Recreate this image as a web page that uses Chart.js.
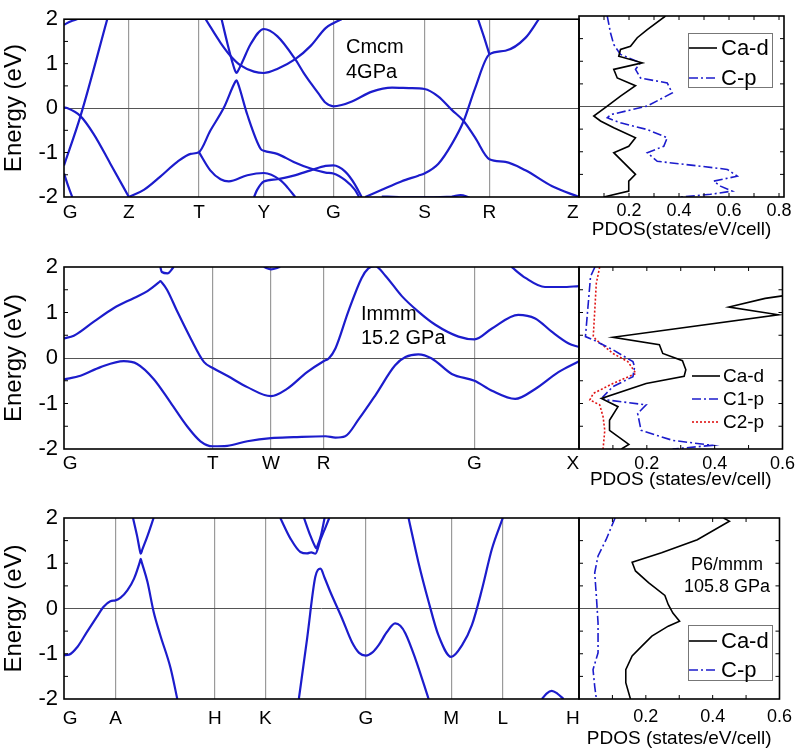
<!DOCTYPE html>
<html>
<head>
<meta charset="utf-8">
<script src="https://cdn.jsdelivr.net/npm/chart.js@4.4.1/dist/chart.umd.min.js"></script>
<style>
body { margin: 0; background: #fff; }
#wrap { position: relative; width: 799px; height: 750px; }
#wrap canvas { position: absolute; left: 0; top: 0; }
</style>
</head>
<body>
<div id="wrap"></div>
<script>
// energy axis
var energyTicks = [-2, -1, 0, 1, 2];
var energyMarks = [-1.5, -1, -0.5, 0.5, 1, 1.5];

// k-path (fraction of path length, 0..100) and labels
var cmcmKPos = [0, 12.6, 26.2, 38.8, 52.3, 70.0, 82.6, 100];
var cmcmKLabels = ["G", "Z", "T", "Y", "G", "S", "R", "Z"];
var immmKPos = [0, 28.9, 40.2, 50.4, 79.7, 100];
var immmKLabels = ["G", "T", "W", "R", "G", "X"];
var p6KPos = [0, 10.0, 29.3, 39.1, 58.6, 75.2, 85.2, 100];
var p6KLabels = ["G", "A", "H", "K", "G", "M", "L", "H"];

// bands [k, E]
var cmcmBands = [
  [[0,-1.29],[3.2,-0.18],[8.4,2.0]],
  [[0,-1.47],[0.8,-1.75],[1.6,-2.0]],
  [[0,0.015],[0.6,0.0],[3.2,-0.18],[5.8,-0.59],[9.0,-1.25],[12.6,-2.0]],
  [[12.6,-2.0],[15.5,-1.84],[18.7,-1.54],[22.0,-1.21],[24.6,-1.03],[26.2,-0.99],[28.4,-0.51],[31.0,0.0],[33.3,0.6],[33.5,0.625],[33.8,0.55],[35.6,-0.15],[38.2,-0.92],[38.8,-0.96],[41.4,-1.03],[44.6,-1.21],[47.9,-1.36],[50.8,-1.45],[52.3,-1.47],[54.6,-1.62],[56.5,-1.84],[57.3,-2.0]],
  [[36.9,-2.0],[37.5,-1.84],[38.8,-1.65],[41.4,-1.60],[44.6,-1.52],[47.9,-1.40],[50.8,-1.30],[52.3,-1.29],[54.6,-1.43],[56.5,-1.72],[57.8,-2.0]],
  [[26.2,-0.99],[28.4,-1.40],[30.4,-1.60],[32.0,-1.65],[35.6,-1.51],[38.8,-1.46],[42.0,-1.62],[43.5,-1.80],[44.9,-2.0]],
  [[27.5,2.0],[30.4,1.47],[32.3,1.18],[34.3,0.96],[36.9,0.82],[38.8,0.79],[41.4,0.88],[44.9,1.10],[47.9,1.40],[50.8,1.80],[52.3,1.91],[53.9,2.0]],
  [[30.6,2.0],[31.7,1.47],[32.7,1.03],[33.3,0.82],[33.5,0.79],[33.8,0.84],[34.6,1.03],[36.2,1.43],[38.8,1.78],[41.4,1.62],[44.9,1.10],[46.5,0.80],[48.0,0.55],[49.4,0.33],[50.8,0.12],[52.3,0.04],[53.9,0.07],[55.9,0.15],[59.8,0.37],[63.7,0.46],[67.0,0.45],[70.0,0.43],[72.7,0.26],[75.3,-0.04],[77.6,-0.29],[79.8,-0.66],[82.6,-1.15],[85.7,-1.21],[89.6,-1.40],[94.8,-1.76],[100,-2.0]],
  [[58.5,-2.0],[61.5,-1.85],[65.5,-1.65],[68.8,-1.52],[70.0,-1.47],[72.7,-1.25],[75.3,-0.81],[77.6,-0.29],[79.8,0.44],[82.6,1.21],[85.7,1.29],[89.6,1.58],[92.2,2.0]],
  [[80.4,2.0],[81.5,1.62],[82.6,1.21]],
  [[61.7,-1.99],[65.0,-2.0],[70.8,-2.01],[75.3,-1.99],[77.0,-1.96],[78.2,-1.99],[79.0,-2.03]],
  [[0,1.875],[1.26,1.95],[2.56,2.0]]
];

var immmBands = [
  [[0,0.43],[1.9,0.49],[5.8,0.80],[9.7,1.10],[13.6,1.32],[16.2,1.47],[18.5,1.67],[18.7,1.69],[19.0,1.66],[20.0,1.50],[22.0,1.02],[24.6,0.43],[27.2,-0.09],[28.9,-0.22],[31.7,-0.39],[35.6,-0.64],[40.2,-0.84],[43.3,-0.68],[47.2,-0.31],[50.4,-0.07],[51.4,-0.01],[52.7,0.21],[55.2,1.02],[57.8,1.76],[59.1,1.97],[60.4,2.02],[62.4,1.81],[65.6,1.36],[68.8,1.02],[72.1,0.73],[76.6,0.47],[79.7,0.41],[83.1,0.65],[88.2,0.95],[91.5,0.87],[94.7,0.58],[98.0,0.32],[100,0.24]],
  [[0,-0.47],[3.2,-0.39],[7.1,-0.20],[11.6,-0.07],[14.2,-0.13],[17.4,-0.46],[20.7,-0.98],[23.9,-1.50],[26.5,-1.83],[28.9,-1.94],[31.7,-1.93],[35.6,-1.83],[40.2,-1.76],[44.6,-1.74],[50.8,-1.72],[52.7,-1.75],[54.6,-1.72],[57.2,-1.35],[60.4,-0.83],[64.3,-0.16],[66.3,0.02],[68.8,0.08],[71.4,-0.01],[75.3,-0.35],[79.7,-0.50],[83.1,-0.72],[87.6,-0.90],[91.5,-0.68],[96.0,-0.31],[100,-0.07]],
  [[18.7,2.0],[19.0,1.89],[20.1,1.86],[21.3,2.0]],
  [[38.8,2.0],[40.2,1.95],[42.0,2.0]],
  [[86.9,2.0],[89.6,1.76],[93.4,1.56],[96.7,1.56],[100,1.58]]
];

var p6Bands = [
  [[0,-1.03],[1.0,-1.02],[2.6,-0.85],[4.5,-0.51],[6.4,-0.18],[7.7,0.04],[9.0,0.16],[10.0,0.18],[11.0,0.24],[12.3,0.40],[13.6,0.66],[14.7,1.02],[14.9,1.10],[15.1,1.02],[16.2,0.59],[17.4,-0.07],[18.7,-0.59],[20.7,-1.32],[22.0,-2.0]],
  [[13.4,2.0],[14.2,1.6],[14.7,1.3],[14.9,1.21],[15.2,1.3],[16.2,1.6],[17.4,2.0]],
  [[45.6,-2.0],[47.2,-0.67],[48.8,0.70],[49.8,0.88],[50.6,0.68],[51.7,0.37],[54.0,-0.22],[55.9,-0.74],[57.3,-0.98],[58.6,-1.04],[59.9,-0.97],[61.1,-0.81],[62.7,-0.52],[64.3,-0.33],[65.3,-0.38],[66.3,-0.55],[68.2,-1.10],[70.8,-2.0]],
  [[42.0,2.0],[44.0,1.54],[45.9,1.25],[47.2,1.22],[48.0,1.24],[48.8,1.21],[49.8,1.52],[50.8,1.80],[51.5,2.0]],
  [[46.6,2.0],[47.8,1.62],[48.8,1.36],[49.0,1.33],[49.2,1.38],[49.9,1.62],[50.6,2.0]],
  [[66.9,2.0],[68.8,1.03],[70.8,0.15],[72.7,-0.59],[75.2,-1.07],[77.3,-0.81],[79.2,-0.37],[81.2,0.44],[83.1,1.32],[85.2,2.0]],
  [[92.8,-2.0],[93.7,-1.88],[94.7,-1.82],[95.8,-1.88],[97.0,-2.0]]
];

// PDOS [states/eV/cell, E]
var cmcmCaD = [[0.346,2.0],[0.273,1.70],[0.233,1.52],[0.206,1.33],[0.166,1.26],[0.159,1.11],[0.253,0.965],[0.139,0.82],[0.153,0.63],[0.226,0.46],[0.166,0.23],[0.113,0.01],[0.059,-0.21],[0.086,-0.32],[0.139,-0.47],[0.226,-0.69],[0.199,-0.88],[0.139,-1.02],[0.179,-1.24],[0.226,-1.50],[0.199,-1.65],[0.199,-1.87],[0.099,-2.0]];
var cmcmCp = [[0.113,2.0],[0.126,1.63],[0.139,1.37],[0.166,1.15],[0.246,0.965],[0.226,0.82],[0.246,0.63],[0.353,0.52],[0.373,0.30],[0.273,0.01],[0.126,-0.18],[0.113,-0.25],[0.166,-0.36],[0.273,-0.51],[0.353,-0.69],[0.339,-0.88],[0.273,-1.02],[0.313,-1.21],[0.486,-1.32],[0.593,-1.39],[0.633,-1.54],[0.539,-1.65],[0.566,-1.76],[0.613,-1.87],[0.526,-1.94],[0.406,-2.0]];
var immmCaD = [[0.70,1.45],[0.60,1.365],[0.549,1.31],[0.442,1.12],[0.588,0.95],[0.100,0.455],[0.237,0.29],[0.247,0.10],[0.305,-0.06],[0.315,-0.26],[0.310,-0.40],[0.198,-0.56],[0.066,-0.89],[0.115,-1.07],[0.090,-1.37],[0.090,-1.59],[0.147,-1.90],[0.125,-2.0]];
var immmC1p = [[0.047,2.0],[0.034,1.79],[0.029,1.35],[0.024,0.91],[0.019,0.47],[0.042,0.40],[0.100,0.18],[0.159,-0.08],[0.164,-0.19],[0.159,-0.41],[0.100,-0.63],[0.071,-0.85],[0.081,-0.92],[0.198,-1.03],[0.173,-1.22],[0.183,-1.59],[0.276,-1.81],[0.393,-1.92],[0.276,-2.0]];
var immmC2p = [[0.061,2.0],[0.051,1.64],[0.046,0.98],[0.042,0.47],[0.051,0.40],[0.100,0.10],[0.144,-0.08],[0.168,-0.34],[0.100,-0.56],[0.042,-0.78],[0.032,-0.92],[0.061,-1.03],[0.071,-1.29],[0.076,-1.59],[0.071,-2.0]];
var p6CaD = [[0.4325,2.0],[0.450,1.93],[0.354,1.52],[0.247,1.23],[0.159,1.02],[0.169,0.83],[0.208,0.57],[0.257,0.29],[0.267,0.09],[0.281,-0.10],[0.301,-0.28],[0.267,-0.39],[0.218,-0.61],[0.188,-0.83],[0.159,-1.05],[0.140,-1.35],[0.140,-1.64],[0.154,-2.0]];
var p6Cp = [[0.108,2.0],[0.081,1.52],[0.057,1.16],[0.047,0.79],[0.052,0.27],[0.057,-0.32],[0.057,-0.98],[0.042,-1.35],[0.047,-1.72],[0.052,-2.0]];

var pdosTicks1 = [0.2, 0.4, 0.6, 0.8];
var pdosMarks1 = [0.1, 0.2, 0.3, 0.4, 0.5, 0.6, 0.7, 0.8];
var pdosTicks2 = [0.2, 0.4, 0.6];
var pdosMarks2 = [0.1, 0.2, 0.3, 0.4, 0.5];

Chart.defaults.font.family = "'Liberation Sans', Arial, sans-serif";
Chart.defaults.color = "#000";

var bandColor = "#1c1ccc";
var wrap = document.getElementById("wrap");
var W = 799, H = 750, bandRight = 579, pdosRight = 784;

function makeCanvas() {
  var c = document.createElement("canvas");
  c.width = W; c.height = H;
  wrap.appendChild(c);
  return c;
}

function tick(ctx, x1, y1, x2, y2) {
  ctx.beginPath(); ctx.moveTo(x1, y1); ctx.lineTo(x2, y2); ctx.stroke();
}

// frame + inward tick marks
function framePlugin(marks) {
  return {
    id: "frame",
    afterDatasetsDraw: function(chart) {
      var ctx = chart.ctx, a = chart.chartArea, sx = chart.scales.x, sy = chart.scales.y;
      ctx.save();
      ctx.strokeStyle = "#000";
      ctx.lineWidth = 1;
      (marks.left || []).forEach(function(v) { var y = sy.getPixelForValue(v); tick(ctx, a.left, y, a.left + 4, y); });
      (marks.right || []).forEach(function(v) { var y = sy.getPixelForValue(v); tick(ctx, a.right - 4, y, a.right, y); });
      (marks.bottom || []).forEach(function(v) { var x = sx.getPixelForValue(v); tick(ctx, x, a.bottom, x, a.bottom - 4); });
      (marks.top || []).forEach(function(v) { var x = sx.getPixelForValue(v); tick(ctx, x, a.top, x, a.top + 4); });
      ctx.lineWidth = 1.6;
      ctx.strokeRect(a.left, a.top, a.right - a.left, a.bottom - a.top);
      ctx.restore();
    }
  };
}

// free text inside the plot
function notesPlugin(notes) {
  return {
    id: "notes",
    afterDraw: function(chart) {
      var ctx = chart.ctx, a = chart.chartArea;
      ctx.save();
      notes.forEach(function(n) {
        ctx.font = n.size + "px 'Liberation Sans', Arial, sans-serif";
        ctx.fillStyle = "#000";
        ctx.textAlign = n.align || "left";
        ctx.textBaseline = "alphabetic";
        ctx.fillText(n.text, a.left + n.dx, a.top + n.dy);
      });
      ctx.restore();
    }
  };
}

// legend drawn from the datasets
function legendPlugin(cfg) {
  return {
    id: "boxLegend",
    afterDraw: function(chart) {
      var ctx = chart.ctx, a = chart.chartArea;
      var x0 = a.left + cfg.left, y0 = a.top + cfg.top;
      ctx.save();
      if (cfg.box) {
        ctx.strokeStyle = "#777"; ctx.lineWidth = 1;
        ctx.strokeRect(x0 + 0.5, y0 + 0.5, cfg.width, cfg.height);
      }
      chart.data.datasets.forEach(function(ds, i) {
        var y = y0 + cfg.firstRow + i * cfg.rowGap;
        ctx.beginPath();
        ctx.setLineDash(ds.borderDash || []);
        ctx.strokeStyle = ds.borderColor;
        ctx.lineWidth = ds.borderWidth;
        ctx.moveTo(x0 + cfg.lineStart, y); ctx.lineTo(x0 + cfg.lineEnd, y);
        ctx.stroke();
        ctx.setLineDash([]);
        ctx.fillStyle = "#000";
        ctx.font = cfg.size + "px 'Liberation Sans', Arial, sans-serif";
        ctx.textBaseline = "middle";
        ctx.fillText(ds.label, x0 + cfg.textX, y + 1);
      });
      ctx.restore();
    }
  };
}

function bandChart(row, bands, kPos, kLabels, labelPad, notes) {
  var axisH = 40;
  new Chart(makeCanvas(), {
    type: "scatter",
    data: {
      datasets: bands.map(function(b) {
        return {
          data: b.map(function(p) { return {x: p[0], y: p[1]}; }),
          showLine: true, borderColor: bandColor, borderWidth: 2.2,
          pointRadius: 0, cubicInterpolationMode: "monotone"
        };
      })
    },
    options: {
      responsive: false, animation: false, events: [],
      layout: {padding: {left: 0, top: row.top, right: W - bandRight, bottom: H - row.bottom - axisH}},
      plugins: {legend: {display: false}, tooltip: {enabled: false}},
      scales: {
        x: {
          type: "linear", min: 0, max: 100,
          afterFit: function(s) { s.height = axisH; },
          afterBuildTicks: function(s) {
            s.ticks = kPos.map(function(v, i) {
              return {value: i === 0 ? v + 1.2 : (i === kPos.length - 1 ? v - 1.2 : v)};
            });
          },
          ticks: {
            callback: function(v, i) { return kLabels[i]; },
            font: {size: 19}, padding: labelPad, maxRotation: 0, autoSkip: false
          },
          grid: {
            color: function(c) { return (c.index === 0 || c.index === kPos.length - 1) ? "rgba(0,0,0,0)" : "#9a9a9a"; },
            lineWidth: 1.2, drawTicks: false
          },
          border: {display: false}
        },
        y: {
          min: -2, max: 2,
          afterFit: function(s) { s.width = 64; },
          afterBuildTicks: function(s) { s.ticks = energyTicks.map(function(v) { return {value: v}; }); },
          ticks: {callback: function(v) { return String(v); }, font: {size: 22}, padding: 6},
          grid: {
            color: function(c) { return c.tick && c.tick.value === 0 ? "#555" : "rgba(0,0,0,0)"; },
            lineWidth: 1, drawTicks: false
          },
          border: {display: false},
          title: {display: true, text: "Energy (eV)", font: {size: 24}, padding: {top: 0, bottom: 0}}
        }
      }
    },
    plugins: [framePlugin({left: energyMarks}), notesPlugin(notes)]
  });
}

function pdosChart(row, datasets, xMax, xTicks, xMarks, title, axisH, labelPad, legendCfg, notes) {
  new Chart(makeCanvas(), {
    type: "scatter",
    data: {
      datasets: datasets.map(function(d) {
        return {
          label: d.label,
          data: d.data.map(function(p) { return {x: p[0], y: p[1]}; }),
          showLine: true, borderColor: d.color, borderWidth: d.width,
          borderDash: d.dash, pointRadius: 0, tension: 0
        };
      })
    },
    options: {
      responsive: false, animation: false, events: [],
      layout: {padding: {left: bandRight, top: row.top, right: W - pdosRight, bottom: H - row.bottom - axisH}},
      plugins: {legend: {display: false}, tooltip: {enabled: false}},
      scales: {
        x: {
          type: "linear", min: 0, max: xMax,
          afterFit: function(s) { s.height = axisH; },
          afterBuildTicks: function(s) { s.ticks = xTicks.map(function(v) { return {value: v}; }); },
          ticks: {callback: function(v) { return v.toFixed(1); }, font: {size: 18}, padding: labelPad, maxRotation: 0, autoSkip: false},
          grid: {display: false, drawTicks: false},
          border: {display: false},
          title: {display: true, text: title, font: {size: 19}, padding: {top: 0, bottom: 0}}
        },
        y: {
          min: -2, max: 2,
          afterFit: function(s) { s.width = 0; },
          afterBuildTicks: function(s) { s.ticks = energyTicks.map(function(v) { return {value: v}; }); },
          ticks: {display: false},
          grid: {
            color: function(c) { return c.tick && c.tick.value === 0 ? "#555" : "rgba(0,0,0,0)"; },
            lineWidth: 1, drawTicks: false
          },
          border: {display: false}
        }
      }
    },
    plugins: [framePlugin({left: energyMarks, right: energyMarks, top: xMarks, bottom: xMarks}), legendPlugin(legendCfg), notesPlugin(notes)]
  });
}

var rows = [{top: 16, bottom: 197}, {top: 267, bottom: 449}, {top: 518, bottom: 699}];
var dashDot = [9, 3, 2, 3];

bandChart(rows[0], cmcmBands, cmcmKPos, cmcmKLabels, 4,
  [{text: "Cmcm", dx: 282, dy: 34, size: 20}, {text: "4GPa", dx: 282, dy: 59, size: 20}]);
pdosChart(rows[0], [
    {label: "Ca-d", data: cmcmCaD, color: "#000", width: 1.6},
    {label: "C-p", data: cmcmCp, color: "#1c1ccc", width: 1.6, dash: dashDot}
  ], 0.82, pdosTicks1, pdosMarks1, "PDOS(states/eV/cell)", 44, 3,
  {box: true, left: 109, top: 17, width: 84, height: 54, firstRow: 15, rowGap: 30, lineStart: 1, lineEnd: 29, textX: 33, size: 22}, []);

bandChart(rows[1], immmBands, immmKPos, immmKLabels, 3,
  [{text: "Immm", dx: 297, dy: 53, size: 20}, {text: "15.2 GPa", dx: 297, dy: 77, size: 20}]);
pdosChart(rows[1], [
    {label: "Ca-d", data: immmCaD, color: "#000", width: 1.6},
    {label: "C1-p", data: immmC1p, color: "#1c1ccc", width: 1.6, dash: dashDot},
    {label: "C2-p", data: immmC2p, color: "#e01515", width: 1.6, dash: [2, 2]}
  ], 0.6, pdosTicks2, pdosMarks2, "PDOS (states/ev/cell)", 42, 4,
  {box: false, left: 113, top: 0, width: 0, height: 0, firstRow: 109, rowGap: 23, lineStart: 0, lineEnd: 28, textX: 31, size: 19}, []);

bandChart(rows[2], p6Bands, p6KPos, p6KLabels, 8, []);
pdosChart(rows[2], [
    {label: "Ca-d", data: p6CaD, color: "#000", width: 1.6},
    {label: "C-p", data: p6Cp, color: "#1c1ccc", width: 1.6, dash: dashDot}
  ], 0.6, pdosTicks2, pdosMarks2, "PDOS (states/eV/cell)", 51, 7,
  {box: true, left: 109, top: 107, width: 84, height: 55, firstRow: 16, rowGap: 29, lineStart: 1, lineEnd: 29, textX: 33, size: 22},
  [{text: "P6/mmm", dx: 148, dy: 52, size: 18, align: "center"}, {text: "105.8 GPa", dx: 148, dy: 74, size: 18, align: "center"}]);
</script>
</body>
</html>
